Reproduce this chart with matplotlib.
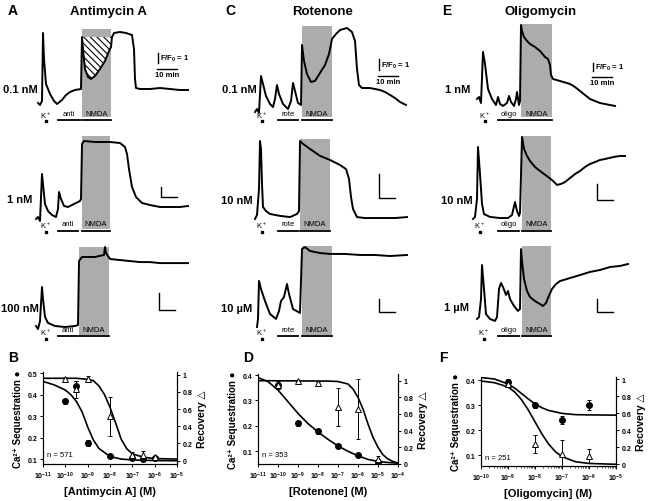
import numpy as np
import matplotlib.pyplot as plt
from matplotlib.transforms import Affine2D, blended_transform_factory

plt.rcParams['font.family'] = ['Liberation Sans', 'DejaVu Sans']
plt.rcParams['font.weight'] = 'bold'
plt.rcParams['axes.labelweight'] = 'bold'
plt.rcParams['mathtext.default'] = 'regular'
plt.rcParams['hatch.linewidth'] = 0.8

# ---------------- traces: time (min) and F/F0 ----------------
# Antimycin A
anti1_t = [0, 1, 2, 2.5, 3, 4, 6, 8, 9.5, 12, 14, 16, 18.5, 21.5, 22, 22.5, 23.5, 25, 26.5, 28.5,
           31, 33.5, 35.5, 36.5, 37, 38, 41, 44, 47, 48, 48.5, 49, 51, 56, 61, 66, 71, 75]
anti1_f = [1.0, 0.8, 1.2, 8.0, 5.4, 2.9, 1.9, 1.2, 0.9, 1.3, 1.8, 2.1, 2.3, 2.4, 7.6, 6.4, 4.4, 3.6, 3.4, 3.7,
           4.4, 5.2, 6.2, 6.6, 7.6, 8.0, 8.1, 8.0, 7.8, 6.4, 3.4, 2.5, 2.4, 2.4, 2.5, 2.4, 2.3, 2.3]
anti2_t = [0, 1, 2, 3, 3.5, 4.5, 6, 8, 10, 11, 11.5, 12.5, 14, 16, 19, 22, 22.5, 23, 24, 29.5, 37,
           42, 44.5, 45.5, 46.5, 48, 50, 53, 57, 62, 67, 72, 76]
anti2_f = [1.0, 1.2, 0.8, 5.5, 4.5, 2.5, 1.8, 1.4, 1.2, 2.0, 3.7, 3.0, 2.3, 2.2, 2.5, 2.8, 3.0, 8.5, 8.8, 8.7, 8.7,
           8.6, 8.2, 7.5, 6.0, 4.2, 3.2, 2.6, 2.4, 2.2, 2.2, 2.2, 2.3]
anti3_t = [0, 1, 2, 3, 3.5, 4.5, 6, 9.5, 14.5, 19.5, 21, 21.5, 23, 29.5, 34, 34.5, 35, 37, 42, 47, 52,
           57, 62, 67, 72, 76]
anti3_f = [1.0, 0.82, 1.29, 3.29, 2.59, 1.53, 1.18, 1.0, 0.94, 1.0, 1.06, 4.82, 5.06, 5.06, 5.18, 5.65, 5.29, 4.94,
           4.88, 4.82, 4.76, 4.76, 4.7, 4.7, 4.7, 4.7]
# Rotenone
rote1_t = [0, 1, 2, 3, 4, 5.5, 7.5, 9, 10, 11, 12, 14, 16.5, 18, 19, 20, 21.5, 23, 23.5, 24.5, 26, 28,
           30, 32.5, 35, 37, 38.5, 40.5, 42.5, 46, 48.5, 50, 51, 52, 53.5, 57.5, 62.5, 65, 67.5, 70,
           72.5, 75.5]
rote1_f = [1.0, 1.27, 0.91, 4.27, 3.55, 2.45, 1.73, 1.45, 2.18, 3.45, 2.64, 1.73, 1.27, 2.0, 3.64, 2.91, 1.82,
           1.64, 7.09, 5.64, 4.45, 3.73, 3.82, 4.55, 5.27, 6.27, 7.64, 8.09, 8.45, 8.64, 8.27, 7.45, 4.91,
           3.45, 3.18, 3.18, 3.0, 2.82, 2.55, 2.27, 1.91, 1.64]
rote2_t = [0, 1, 2, 2.5, 3, 3.5, 4, 5.5, 7.5, 12.5, 17.5, 21, 22, 22.5, 24, 27.5, 32.5, 37.5, 42.5,
           45.5, 47, 48, 49, 51, 55, 62.5, 70, 76]
rote2_f = [1.0, 1.17, 2.25, 4.25, 3.92, 2.46, 1.5, 1.33, 1.21, 1.13, 1.08, 1.21, 1.33, 4.25, 4.13, 3.92, 3.63,
           3.46, 3.25, 3.08, 2.67, 1.92, 1.42, 1.08, 1.04, 1.04, 1.04, 1.08]
rote3_t = [0, 0.5, 1, 2, 4, 6.5, 9.5, 11, 12, 13.5, 15, 16, 18, 21.5, 22.5, 24, 26.5, 31.5, 36.5,
           44, 51.5, 59, 66.5, 75]
rote3_f = [1.0, 1.62, 4.54, 3.92, 3.0, 2.0, 1.62, 2.23, 3.0, 3.31, 4.31, 3.54, 2.38, 2.08, 7.0, 7.15, 6.85,
           6.69, 6.62, 6.62, 6.54, 6.54, 6.46, 6.54]
# Oligomycin
oligo1_t = [0, 1, 2, 3, 4, 5.5, 7.5, 9.5, 10.5, 11.5, 13, 15, 16, 17, 18.5, 19.5, 20, 21, 21.5, 22,
            22.5, 23.5, 25, 26.5, 29, 31.5, 34, 35.5, 36.5, 37, 38, 41.5, 46.5, 49, 51.5, 56.5,
            61.5, 66.5, 69]
oligo1_f = [1.0, 1.25, 0.5, 6.88, 5.38, 2.25, 1.0, 0.25, 1.25, 0.38, 0.13, 0.5, 1.38, 0.63, 0.13, 1.0, 1.88,
            0.25, 0.75, 10.25, 9.5, 8.75, 8.25, 7.88, 7.5, 7.0, 6.25, 6.0, 5.25, 4.0, 3.5, 3.25, 2.88, 2.5,
            2.0, 1.0, 0.5, 0.25, 0.13]
oligo2_t = [0, 1, 2, 2.5, 3.5, 4.5, 5.5, 8.5, 13.5, 17.5, 19.5, 21, 22, 23, 23.5, 24.5, 25.5, 27,
            28.5, 31, 33.5, 37.5, 40, 42, 44, 46, 48.5, 51, 53.5, 56, 58.5, 61, 63.5, 66, 70.5,
            73.5, 76]
oligo2_f = [1.0, 1.13, 2.25, 5.5, 3.81, 1.94, 1.31, 1.13, 1.06, 1.06, 1.25, 2.06, 1.5, 1.19, 1.38, 6.13, 5.38,
            4.94, 4.63, 4.25, 4.0, 3.63, 3.38, 3.13, 3.19, 3.31, 3.56, 3.81, 4.0, 4.25, 4.44, 4.56, 4.69,
            4.75, 4.88, 4.94, 4.94]
oligo3_t = [0, 1, 2, 2.5, 3.5, 4.5, 6.5, 9, 10, 11, 12, 13, 14.5, 15.5, 16.5, 18.5, 20.5, 21.5, 22,
            22.5, 23.5, 25, 26.5, 29, 31.5, 33, 34.5, 35.5, 37.5, 39.5, 41.5, 46.5, 51.5, 56.5,
            61.5, 66.5, 71.5, 75.5]
oligo3_f = [1.0, 1.15, 2.54, 5.15, 3.31, 1.38, 1.0, 0.85, 1.15, 3.31, 3.77, 3.46, 2.85, 3.15, 2.54, 2.0, 1.62,
            1.77, 6.38, 5.46, 4.08, 3.15, 2.69, 2.38, 2.15, 2.0, 2.23, 2.62, 3.31, 3.69, 3.92, 4.15, 4.38,
            4.62, 4.77, 5.0, 5.08, 5.23]

# ---------------- dose-response data ----------------
b_conc = [1e-10, 3e-10, 1e-9, 1e-8, 1e-7, 3e-7, 1e-6]
b_seq = [0.369, 0.443, 0.174, 0.112, 0.103, 0.100, 0.106]
b_seq_err = [0.01, 0.02, 0.015, 0.005, 0.005, 0.005, 0.005]
b_rec = [0.95, 0.83, 0.95, 0.515, 0.066, 0.07, 0.045]
b_rec_err = [0.01, 0.10, 0.03, 0.23, 0.03, 0.04, 0.01]
b_fit_seq_exp = [-11, -10.5, -10, -9.75, -9.5, -9.25, -9, -8.75, -8.5, -8, -7.5, -7, -6, -5]
b_fit_seq = [0.462, 0.446, 0.422, 0.40, 0.368, 0.32, 0.25, 0.19, 0.15, 0.112, 0.10, 0.096, 0.093, 0.092]
b_fit_rec_exp = [-11, -9.5, -9, -8.75, -8.5, -8.25, -8, -7.75, -7.5, -7.25, -7, -6.5, -6, -5]
b_fit_rec = [0.957, 0.957, 0.945, 0.93, 0.87, 0.77, 0.62, 0.44, 0.25, 0.14, 0.08, 0.04, 0.025, 0.019]

d_conc = [1e-10, 1e-9, 1e-8, 1e-7, 1e-6, 1e-5]
d_seq = [0.36, 0.21, 0.178, 0.12, 0.087, 0.057]
d_seq_err = [0.015, 0.01, 0.01, 0.005, 0.005, 0.008]
d_rec = [0.95, 1.0, 0.97, 0.68, 0.66, 0.06]
d_rec_err = [0.05, 0.01, 0.01, 0.23, 0.36, 0.03]
d_fit_seq_exp = [-11, -10.5, -10, -9.5, -9, -8.5, -8, -7.5, -7, -6.5, -6, -5.5, -5, -4.5, -4]
d_fit_seq = [0.39, 0.374, 0.341, 0.295, 0.249, 0.209, 0.176, 0.147, 0.121, 0.10, 0.082, 0.068, 0.06, 0.056, 0.053]
d_fit_rec_exp = [-11, -7.5, -7, -6.5, -6.25, -6, -5.75, -5.5, -5.25, -5, -4.75, -4.5, -4.25, -4]
d_fit_rec = [1.0, 0.995, 0.99, 0.96, 0.9, 0.8, 0.66, 0.48, 0.32, 0.2, 0.11, 0.06, 0.03, 0.012]

f_conc = [1e-9, 1e-8, 1e-7, 1e-6]
f_seq = [0.393, 0.30, 0.24, 0.30]
f_seq_err = [0.012, 0.01, 0.015, 0.02]
f_rec = [0.95, 0.235, 0.118, 0.098]
f_rec_err = [0.02, 0.106, 0.17, 0.08]
f_fit_seq_exp = [-10, -9.5, -9, -8.75, -8.5, -8.25, -8, -7.75, -7.5, -7, -6.5, -6, -5]
f_fit_seq = [0.411, 0.405, 0.385, 0.368, 0.347, 0.325, 0.305, 0.29, 0.279, 0.267, 0.262, 0.261, 0.26]
f_fit_rec_exp = [-10, -9.5, -9, -8.75, -8.5, -8.25, -8, -7.75, -7.5, -7.25, -7, -6.5, -6, -5]
f_fit_rec = [0.98, 0.96, 0.91, 0.85, 0.76, 0.64, 0.5, 0.36, 0.24, 0.15, 0.09, 0.03, 0.01, 0.0]

W, H = 648, 502
fig = plt.figure(figsize=(W / 100, H / 100), dpi=100)
# transform using pixel coordinates of the picture (origin top-left)
px = Affine2D().scale(1 / W, -1 / H).translate(0, 1) + fig.transFigure
PPM = 2.0  # pixels per minute


def trace(box, x0, y0, ppu, t, f, drug, drug_win, nmda_win, k_t, ys, bar, hatch=False):
    l, t_, r, b = box
    ax = fig.add_axes([l / W, 1 - b / H, (r - l) / W, (b - t_) / H])
    ax.set_xlim((l - x0) / PPM, (r - x0) / PPM)
    ax.set_ylim(1 + (y0 - b) / ppu, 1 + (y0 - t_) / ppu)
    ax.axis('off')
    tr = blended_transform_factory(ax.transData, px)
    box_top, box_bot, lab_y, bar_y, k_y, dot_y = ys
    ax.fill_between(nmda_win, [box_bot] * 2, [box_top] * 2, color='#acacac', lw=0,
                    transform=tr, zorder=1)
    if hatch:
        tt = np.array(t)
        ff = np.array(f)
        m = (tt >= nmda_win[0] + 0.5) & (tt <= nmda_win[1])
        ax.fill_between(tt[m], ff[m], ff[tt == nmda_win[0]][0], facecolor='white',
                        edgecolor='black', hatch='\\\\\\\\\\', lw=0, zorder=2)
    ax.plot(t, f, color='black', lw=1.4, zorder=3)
    ax.plot(drug_win, [bar_y] * 2, color='black', lw=1.3, transform=tr, clip_on=False)
    ax.plot(nmda_win, [bar_y] * 2, color='black', lw=1.3, transform=tr, clip_on=False)
    ax.text(np.mean(drug_win), lab_y, drug, transform=tr, ha='center', va='center',
            fontsize=5.5, fontweight='normal')
    ax.text(np.mean(nmda_win), lab_y, 'NMDA', transform=tr, ha='center', va='center',
            fontsize=5.5, fontweight='normal')
    ax.text(k_t + 1, k_y, 'K$^+$', transform=tr, ha='center', va='center', fontsize=5.5,
            fontweight='normal')
    ax.plot([k_t + 1], [dot_y], 's', ms=1.5, color='black', transform=tr, clip_on=False)
    # scale bar
    sx, sy, hlen, text = bar
    if text:
        ax.plot([sx, sx], [sy, sy + 1], color='black', lw=1.0)
        ax.text(sx + 1.2, sy + 0.5, 'F/F$_0$ = 1', fontsize=5.5, va='center', ha='left')
        hy = sy - 6 / ppu
        ax.plot([sx - 0.5, sx - 0.5 + hlen], [hy, hy], color='black', lw=1.0)
        ax.text(sx - 0.5 + hlen / 2, hy - 5.5 / ppu, '10 min', fontsize=5.5, ha='center',
                va='center')
    else:
        ax.plot([sx, sx, sx + hlen], [sy + 1, sy, sy], color='black', lw=1.0)
    return ax


colA, colC, colE = (25, 210), (245, 425), (465, 645)

trace((colA[0], 22, colA[1], 126), 38, 104, 10, anti1_t, anti1_f, 'anti', [10, 21], [22, 36.5], 3,
      (30, 118, 114, 121, 116, 122), (60, 5.0, 10, True), hatch=True)
trace((colA[0], 128, colA[1], 236), 36, 220, 10, anti2_t, anti2_f, 'anti', [11, 21], [23, 37], 4,
      (137, 230, 225, 232, 226, 233), (62.5, 3.2, 8, False))
trace((colA[0], 238, colA[1], 344), 36, 327, 17, anti3_t, anti3_f, 'anti', [11, 20.5], [21.5, 36.5], 4,
      (248, 336, 331, 337, 333, 340), (61.5, 1.94, 8, False))

trace((colC[0], 20, colC[1], 126), 255, 113, 11, rote1_t, rote1_f, 'rote', [11.5, 21.5], [23.5, 38.5], 2.5,
      (27, 118, 114, 121, 116, 122), (62, 4.82, 10, True))
trace((colC[0], 128, colC[1], 236), 255, 220, 24, rote2_t, rote2_f, 'rote', [11.5, 21.5], [22.5, 37.5], 2.5,
      (140, 231, 225, 232, 226, 233), (62, 1.875, 8, False))
trace((colC[0], 238, colC[1], 344), 257, 328, 13, rote3_t, rote3_f, 'rote', [10.5, 20.5], [22.5, 37.5], 1.5,
      (247, 336, 331, 337, 333, 340), (61, 2.15, 8, False))

trace((colE[0], 20, colE[1], 126), 477, 100, 8, oligo1_t, oligo1_f, 'oligo', [10.5, 21], [22, 37.5], 3,
      (25, 118, 114, 121, 116, 122), (58, 4.5, 10, True))
trace((colE[0], 128, colE[1], 236), 473, 220, 16, oligo2_t, oligo2_f, 'oligo', [12.5, 23], [24.5, 39], 2.5,
      (137, 231, 225, 232, 226, 233), (62, 2.19, 8, False))
trace((colE[0], 238, colE[1], 344), 477, 320, 13, oligo3_t, oligo3_f, 'oligo', [10.5, 21], [22.5, 37], 2.5,
      (247, 336, 331, 337, 333, 340), (60, 1.54, 8, False))

# row labels and titles
for x, y, s in [(20, 90, '0.1 nM'), (20, 200, '1 nM'), (20, 309, '100 nM'),
                (239, 90, '0.1 nM'), (237, 201, '10 nM'), (237, 309, '10 µM'),
                (458, 90, '1 nM'), (457, 201, '10 nM'), (456, 308, '1 µM')]:
    fig.text(x, y, s, transform=px, ha='center', va='center', fontsize=8)
for x, y, s in [(13, 11, 'A'), (230, 11, 'C'), (447, 11, 'E'),
                (13, 358, 'B'), (248, 358, 'D'), (443, 358, 'F')]:
    fig.text(x, y, s, transform=px, ha='center', va='center', fontsize=10)
for x, s in [(108, 'Antimycin A'), (323, 'Rotenone'), (541, 'Oligomycin')]:
    fig.text(x, 12, s, transform=px, ha='center', va='center', fontsize=9.5)


def dose(box, conc, seq, seq_err, rec, rec_err, fs_exp, fs, fr_exp, fr, xlim, yl, yr, yticks,
         xlabel, ntext):
    l, t_, r, b = box
    ax = fig.add_axes([l / W, 1 - b / H, (r - l) / W, (b - t_) / H])
    ax.set_xscale('log')
    ax.set_xlim(*xlim)
    ax.set_ylim(*yl)
    ax2 = ax.twinx()
    ax2.set_ylim(*yr)
    ax.plot(10.0 ** np.array(fs_exp), fs, color='black', lw=1.2)
    ax2.plot(10.0 ** np.array(fr_exp), fr, color='black', lw=1.2)
    ax.errorbar(conc, seq, yerr=seq_err, fmt='o', color='black', ms=4, elinewidth=0.7,
                capsize=1.5, capthick=0.7, zorder=4)
    ax2.errorbar(conc, rec, yerr=rec_err, fmt='^', mfc='white', mec='black', color='black',
                 ms=4.5, mew=0.7, elinewidth=0.7, capsize=1.5, capthick=0.7, zorder=5)
    for a in (ax, ax2):
        a.spines['top'].set_visible(False)
        for s in a.spines.values():
            s.set_linewidth(0.8)
        a.tick_params(labelsize=5, length=2.5, width=0.7, pad=1.5)
        a.tick_params(which='minor', length=1.3, width=0.5)
    ax.set_yticks(yticks)
    ax.set_yticklabels([f'{v:g}' for v in yticks])
    ax2.set_yticks([0, 0.2, 0.4, 0.6, 0.8, 1])
    ax2.set_yticklabels(['0', '0.2', '0.4', '0.6', '0.8', '1'])
    ax.set_xticks([10.0 ** e for e in range(int(np.log10(xlim[0])), int(np.log10(xlim[1])) + 1)])
    ax.set_xlabel(xlabel, fontsize=8, labelpad=4)
    ax.set_ylabel('Ca²⁺ Sequestration ●', fontsize=7, labelpad=3)
    ax2.set_ylabel('Recovery △', fontsize=7.5, labelpad=3)
    ax.text(0.03, 0.1, ntext, transform=ax.transAxes, fontsize=5.5, fontweight='normal',
            va='center')
    return ax


dose((43, 373, 177, 465), b_conc, b_seq, b_seq_err, b_rec, b_rec_err, b_fit_seq_exp, b_fit_seq,
     b_fit_rec_exp, b_fit_rec, (1e-11, 1e-5), (0.077, 0.506), (-0.038, 1.03),
     [0.1, 0.2, 0.3, 0.4, 0.5], '[Antimycin A] (M)', 'n = 571')
dose((258, 375, 398, 465), d_conc, d_seq, d_seq_err, d_rec, d_rec_err, d_fit_seq_exp, d_fit_seq,
     d_fit_rec_exp, d_fit_rec, (1e-11, 1e-4), (0.05, 0.404), (0.0, 1.08),
     [0.1, 0.2, 0.3, 0.4], '[Rotenone] (M)', 'n = 353')
dose((481, 378, 616, 467), f_conc, f_seq, f_seq_err, f_rec, f_rec_err, f_fit_seq_exp, f_fit_seq,
     f_fit_rec_exp, f_fit_rec, (1e-10, 1e-5), (0.056, 0.413), (-0.02, 1.027),
     [0.1, 0.2, 0.3, 0.4], '[Oligomycin] (M)', 'n = 251')

fig.savefig('out.png', dpi=100)
